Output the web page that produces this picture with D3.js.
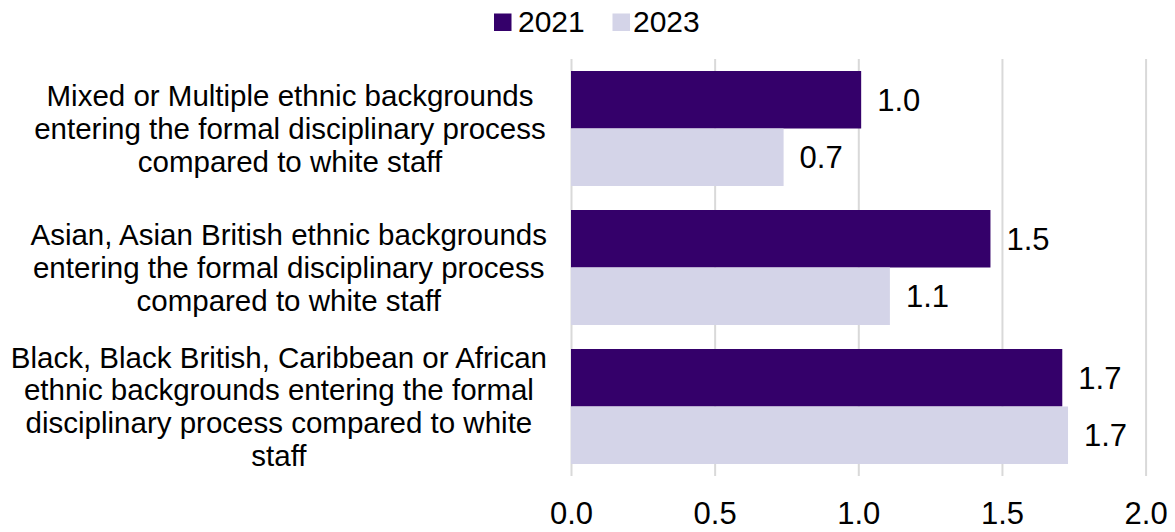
<!DOCTYPE html>
<html>
<head>
<meta charset="utf-8">
<script src="https://cdn.jsdelivr.net/npm/d3@7"></script>
<style>
  html, body { margin: 0; padding: 0; background: #ffffff; }
  svg { display: block; font-family: Arial, "Liberation Sans", sans-serif; }
</style>
</head>
<body>
<svg id="chart" width="1175" height="532"></svg>
<script>
// Ratio of staff entering the formal disciplinary process, by ethnic background
const categories = [
  "Mixed or Multiple ethnic backgrounds\nentering the formal disciplinary process\ncompared to white staff",
  "Asian, Asian British ethnic backgrounds\nentering the formal disciplinary process\ncompared to white staff",
  "Black, Black British, Caribbean or African\nethnic backgrounds entering the formal\ndisciplinary process compared to white\nstaff"
];
const seriesNames = ["2021", "2023"];
const values2021 = [1.01, 1.46, 1.71];
const values2023 = [0.74, 1.11, 1.73];
const xTicks = [0, 0.5, 1.0, 1.5, 2.0];

const colors = { "2021": "#34006a", "2023": "#d4d4e8" };

const svg = d3.select("#chart");
const plot = { left: 571, right: 1145.6, top: 59, bottom: 476 };

const x = d3.scaleLinear().domain([0, 2]).range([plot.left, plot.right]);
const y = d3.scaleBand().domain(categories).range([plot.top, plot.bottom])
  .paddingInner(0.1727).paddingOuter(0.0864);
const ySub = d3.scaleBand().domain(seriesNames).range([0, y.bandwidth()]).padding(0);

// Vertical gridlines and tick labels
const xAxis = d3.axisBottom(x)
  .tickValues(xTicks)
  .tickFormat(d3.format(".1f"))
  .tickSize(-(plot.bottom - plot.top))
  .tickPadding(26);

const axisG = svg.append("g")
  .attr("transform", `translate(0,${plot.bottom})`)
  .call(xAxis);
axisG.select(".domain").remove();
axisG.selectAll(".tick line").attr("stroke", "#d9d9d9").attr("stroke-width", 2);
axisG.selectAll(".tick text")
  .attr("fill", "#000")
  .style("font-size", "31px")
  .style("font-family", "Arial, 'Liberation Sans', sans-serif");

// Bars
const rows = categories.map((c, i) => ({
  category: c,
  items: [
    { series: "2021", value: values2021[i] },
    { series: "2023", value: values2023[i] }
  ]
}));

const groups = svg.append("g").selectAll("g")
  .data(rows)
  .join("g")
  .attr("transform", d => `translate(0,${y(d.category)})`);

groups.selectAll("rect")
  .data(d => d.items)
  .join("rect")
  .attr("x", x(0))
  .attr("y", d => ySub(d.series))
  .attr("width", d => x(d.value) - x(0))
  .attr("height", ySub.bandwidth())
  .attr("fill", d => colors[d.series]);

// Value labels
groups.selectAll("text.value")
  .data(d => d.items)
  .join("text")
  .attr("class", "value")
  .attr("x", d => x(d.value) + 16)
  .attr("y", d => ySub(d.series) + ySub.bandwidth() / 2)
  .attr("dy", "0.35em")
  .style("font-size", "31px")
  .attr("fill", "#000")
  .text(d => d3.format(".1f")(d.value));

// Category labels: multi-line, centred, kept clear of the plot's left edge
const lineHeight = 32.7;
const labelCenter = 290;
const labelRightLimit = plot.left - 24;
const catLabels = svg.append("g").selectAll("text")
  .data(categories)
  .join("text")
  .attr("text-anchor", "middle")
  .style("font-size", "29.5px")
  .attr("fill", "#000");

catLabels.each(function (d) {
  const lines = d.split("\n");
  const cy = y(d) + y.bandwidth() / 2;
  const startY = cy - (lines.length - 1) * lineHeight / 2;
  const spans = d3.select(this).selectAll("tspan")
    .data(lines)
    .join("tspan")
    .attr("x", labelCenter)
    .attr("y", (l, i) => startY + i * lineHeight)
    .attr("dy", "0.35em")
    .text(l => l);
  let blockWidth = 0;
  spans.each(function () { blockWidth = Math.max(blockWidth, this.getComputedTextLength()); });
  const cx = Math.min(labelCenter, labelRightLimit - blockWidth / 2);
  spans.attr("x", cx);
});

// Legend
const legendItems = [
  { name: "2021", sx: 494, tx: 518 },
  { name: "2023", sx: 612.5, tx: 633 }
];
const legend = svg.append("g");
legend.selectAll("rect")
  .data(legendItems)
  .join("rect")
  .attr("x", d => d.sx)
  .attr("y", 13.5)
  .attr("width", 17.5)
  .attr("height", 17.5)
  .attr("fill", d => colors[d.name]);
legend.selectAll("text")
  .data(legendItems)
  .join("text")
  .attr("x", d => d.tx)
  .attr("y", 31.7)
  .style("font-size", "30px")
  .attr("fill", "#000")
  .text(d => d.name);
</script>
</body>
</html>
